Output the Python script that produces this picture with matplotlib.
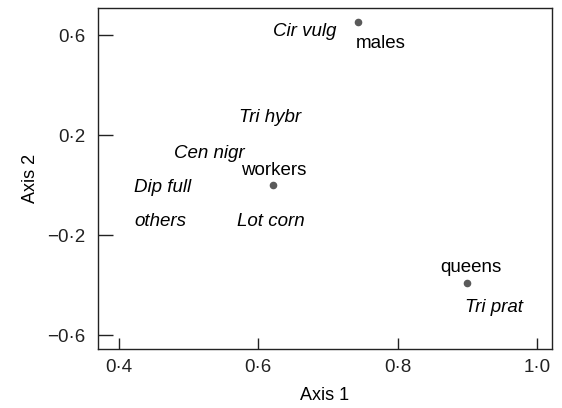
import matplotlib.pyplot as plt
from matplotlib.ticker import FuncFormatter

plt.rcParams['font.family'] = ['Liberation Sans', 'DejaVu Sans']

# caste centroids
castes = ['workers', 'males', 'queens']
caste_x = [0.621, 0.743, 0.899]
caste_y = [0.0, 0.652, -0.392]
caste_lx = [0.622, 0.776, 0.905]
caste_ly = [0.058, 0.568, -0.332]

# plant species labels
plants = ['Cir vulg', 'Tri hybr', 'Cen nigr', 'Dip full', 'others', 'Lot corn', 'Tri prat']
plant_x = [0.667, 0.617, 0.530, 0.462, 0.459, 0.618, 0.938]
plant_y = [0.616, 0.268, 0.128, -0.008, -0.144, -0.144, -0.488]

xticks = [0.4, 0.6, 0.8, 1.0]
yticks = [-0.6, -0.2, 0.2, 0.6]

fig = plt.figure(figsize=(5.62, 4.08), dpi=100)
ax = fig.add_axes([98 / 562, 1 - 349 / 408, 454 / 562, 341 / 408])

ax.scatter(caste_x, caste_y, s=20, color='#5a5a5a', zorder=3)
for name, x, y in zip(castes, caste_lx, caste_ly):
    ax.text(x, y, name, ha='center', va='center', fontsize=13.5)
for name, x, y in zip(plants, plant_x, plant_y):
    ax.text(x, y, name, ha='center', va='center', fontsize=13.5, style='italic')

ax.set_xlim(0.37, 1.0215)
ax.set_ylim(-0.656, 0.708)
ax.set_xticks(xticks)
ax.set_yticks(yticks)


def fmt(v, pos):
    s = f"{abs(v):.1f}".replace('.', '\u00b7')
    return ('\u2212' if v < 0 else '') + s


ax.xaxis.set_major_formatter(FuncFormatter(fmt))
ax.yaxis.set_major_formatter(FuncFormatter(fmt))
ax.tick_params(direction='in', width=1, labelsize=13.5, colors='#222222')
ax.tick_params(axis='x', length=8, pad=7)
ax.tick_params(axis='y', length=11, pad=9)
for sp in ax.spines.values():
    sp.set_linewidth(1)
    sp.set_color('#222222')

ax.set_xlabel('Axis 1', fontsize=13, labelpad=8)
ax.set_ylabel('Axis 2', fontsize=13, labelpad=6)

plt.savefig('out.png', dpi=100)
